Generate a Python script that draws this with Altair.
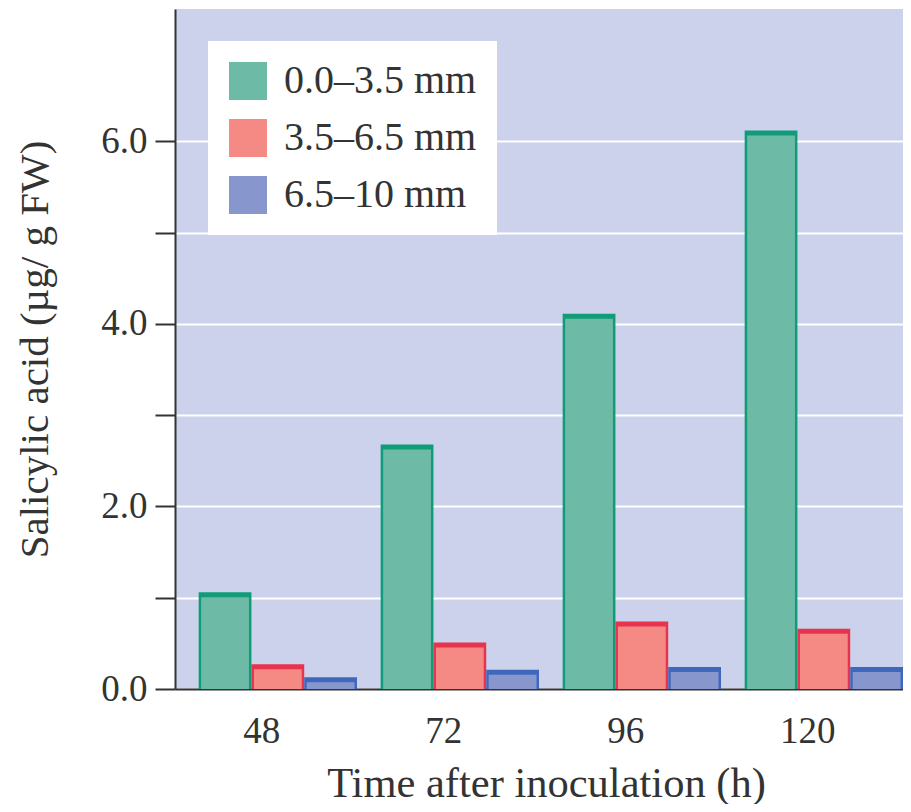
import altair as alt
import pandas as pd

times = ["48", "72", "96", "120"]
zones = ["0.0–3.5 mm", "3.5–6.5 mm", "6.5–10 mm"]
green_vals = [1.06, 2.68, 4.11, 6.12]
red_vals = [0.27, 0.51, 0.74, 0.66]
blue_vals = [0.13, 0.21, 0.24, 0.24]
y_ticks = [0, 1, 2, 3, 4, 5, 6]

light = ["#6dbba7", "#f48a83", "#8797cd"]
dark = ["#109c77", "#e8334e", "#3f68bd"]

rows = []
for z, vals in zip(zones, [green_vals, red_vals, blue_vals]):
    for t, v in zip(times, vals):
        rows.append({"time": t, "zone": z, "value": v})
df = pd.DataFrame(rows)

FONT = "Liberation Serif"
TXT = "#333333"

x = alt.X(
    "time:N",
    sort=times,
    scale=alt.Scale(paddingInner=0.13, paddingOuter=0.065, align=1),
    axis=alt.Axis(
        title="Time after inoculation (h)",
        labelAngle=0,
        ticks=False,
        tickSize=0,
        labelPadding=24,
        labelOffset=-16,
        labelFont=FONT,
        labelFontSize=37,
        labelColor=TXT,
        domainColor=TXT,
        domainWidth=2,
        titleFont=FONT,
        titleFontSize=42.5,
        titleFontWeight="normal",
        titleColor=TXT,
        titleBaseline="alphabetic",
        titleAlign="center",
        titleX=371,
        titleY=107,
    ),
)
xoff = alt.XOffset("zone:N", sort=zones, scale=alt.Scale(paddingInner=0, paddingOuter=0))
y = alt.Y(
    "value:Q",
    stack=None,
    scale=alt.Scale(domain=[0, 7.45], nice=False, zero=True),
    axis=alt.Axis(
        title="Salicylic acid (µg/ g FW)",
        values=y_ticks,
        labelExpr="datum.value % 2 == 0 ? format(datum.value, '.1f') : ''",
        tickSize=20,
        tickWidth=2,
        tickColor=TXT,
        domainColor=TXT,
        domainWidth=2,
        grid=True,
        gridColor="white",
        gridWidth=2,
        labelPadding=8,
        labelFont=FONT,
        labelFontSize=37,
        labelColor=TXT,
        titleFont=FONT,
        titleFontSize=41,
        titleFontWeight="normal",
        titleColor=TXT,
        titleBaseline="alphabetic",
        titleX=-128,
    ),
)

dark_color = (
    alt.when(alt.datum.zone == zones[0]).then(alt.value(dark[0]))
    .when(alt.datum.zone == zones[1]).then(alt.value(dark[1]))
    .otherwise(alt.value(dark[2]))
)

dark_bars = alt.Chart(df).mark_bar().encode(
    x=x,
    xOffset=xoff,
    y=y,
    color=dark_color,
)

light_bars = alt.Chart(df).mark_bar(width=47.8, xOffset=-2.5, yOffset=5).encode(
    x=x,
    xOffset=xoff,
    y=y,
    color=alt.Color(
        "zone:N",
        title=None,
        scale=alt.Scale(domain=zones, range=light),
        legend=alt.Legend(
            orient="none",
            legendX=33,
            legendY=32,
            fillColor="white",
            padding=20,
            symbolType="square",
            symbolSize=1444,
            symbolStrokeWidth=0,
            symbolOpacity=1,
            labelFont=FONT,
            labelFontSize=40,
            labelColor=TXT,
            labelLimit=400,
            labelOffset=16,
            rowPadding=17,
        ),
    ),
)

chart = (
    alt.layer(dark_bars, light_bars)
    .properties(
        width=728,
        height=680,
        autosize=alt.AutoSizeParams(type="none"),
        padding={"left": 167, "top": 1, "right": 0, "bottom": 115},
    )
    .configure(font=FONT)
    .configure_view(fill="#ccd1ec", strokeWidth=0)
)

chart.save("out.html", embed_options={"renderer": "svg", "actions": False})
